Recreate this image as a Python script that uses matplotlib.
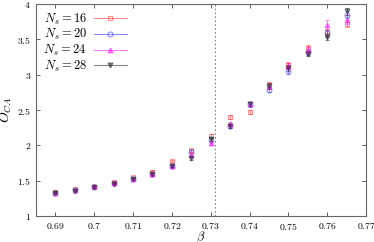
import matplotlib
matplotlib.use("Agg")
import matplotlib.pyplot as plt
from matplotlib.lines import Line2D
from matplotlib.ticker import FuncFormatter

plt.rcParams['mathtext.fontset'] = 'cm'
plt.rcParams['font.family'] = 'DejaVu Serif'

beta = [0.69, 0.695, 0.70, 0.705, 0.71, 0.715, 0.72, 0.725, 0.73,
        0.735, 0.74, 0.745, 0.75, 0.755, 0.76, 0.765]

o_16 = [1.34, 1.38, 1.41, 1.48, 1.55, 1.63, 1.78, 1.93, 2.13,
        2.40, 2.47, 2.86, 3.14, 3.38, 3.60, 3.72]
o_20 = [1.33, 1.37, 1.41, 1.47, 1.53, 1.60, 1.71, 1.91, 2.07,
        2.27, 2.58, 2.79, 3.05, 3.32, 3.59, 3.85]
o_24 = [1.33, 1.37, 1.42, 1.47, 1.53, 1.60, 1.71, 1.87, 2.03,
        2.30, 2.59, 2.84, 3.12, 3.35, 3.70, 3.78]
o_28 = [1.33, 1.36, 1.41, 1.46, 1.52, 1.59, 1.71, 1.82, 2.09,
        2.28, 2.59, 2.84, 3.10, 3.30, 3.54, 3.90]

err_16 = [0.01, 0.01, 0.01, 0.01, 0.01, 0.02, 0.02, 0.02, 0.03,
          0.03, 0.03, 0.04, 0.04, 0.04, 0.05, 0.05]
err_20 = [0.01, 0.01, 0.01, 0.01, 0.01, 0.02, 0.02, 0.02, 0.03,
          0.03, 0.03, 0.04, 0.04, 0.04, 0.05, 0.05]
err_24 = [0.01, 0.01, 0.01, 0.01, 0.01, 0.02, 0.02, 0.03, 0.03,
          0.03, 0.03, 0.04, 0.04, 0.05, 0.07, 0.06]
err_28 = [0.01, 0.01, 0.01, 0.01, 0.01, 0.02, 0.02, 0.02, 0.03,
          0.03, 0.03, 0.04, 0.04, 0.04, 0.05, 0.05]

beta_c = 0.7311

series = [
    ("$N_s = 16$", o_16, err_16, "#ff4040", "s", "none"),
    ("$N_s = 20$", o_20, err_20, "#4040ff", "o", "none"),
    ("$N_s = 24$", o_24, err_24, "#ff20ff", "^", "#ff20ff"),
    ("$N_s = 28$", o_28, err_28, "#303030", "v", "#303030"),
]

fig = plt.figure(figsize=(3.74, 2.42), dpi=100)
ax = fig.add_axes([0.096, 0.107, 0.883, 0.876])

handles = []
for label, y, e, c, m, fc in series:
    ax.errorbar(beta, y, yerr=e, color=c, marker=m, mfc=fc,
                mec=c, ms=3.5, mew=0.8, ls="none", elinewidth=0.7,
                capsize=1.5, capthick=0.7, alpha=0.55)
    # legend key drawn like gnuplot: horizontal bar with the marker
    handles.append(Line2D([], [], color=c, marker=m, mfc=fc, mec=c,
                          ms=3.5, mew=0.8, lw=0.8, alpha=0.6, label=label))

ax.axvline(beta_c, color="gray", ls=(0, (1.5, 2.0)), lw=0.8)

ax.set_xlim(0.685, 0.77)
ax.set_ylim(1, 4)
ax.set_xticks([0.69, 0.70, 0.71, 0.72, 0.73, 0.74, 0.75, 0.76, 0.77])
ax.set_yticks([1, 1.5, 2, 2.5, 3, 3.5, 4])
ax.xaxis.set_major_formatter(FuncFormatter(lambda v, p: "$%g$" % round(v, 3)))
ax.yaxis.set_major_formatter(FuncFormatter(lambda v, p: "$%g$" % v))
ax.tick_params(direction="in", top=True, right=True, labelsize=7,
               length=3, width=0.6, colors="#444444", labelcolor="black")
for s in ax.spines.values():
    s.set_color("#666666")
    s.set_linewidth(0.8)

ax.set_xlabel(r"$\beta$", fontsize=9, labelpad=-2)
ax.set_ylabel(r"$O_{CA}$", fontsize=10, labelpad=2)

ax.legend(handles=handles, loc="upper left", frameon=False,
          markerfirst=False, fontsize=9, handlelength=2.6,
          borderaxespad=0.2, labelspacing=0.05, handletextpad=0.6)

fig.savefig("out.png", dpi=100)
